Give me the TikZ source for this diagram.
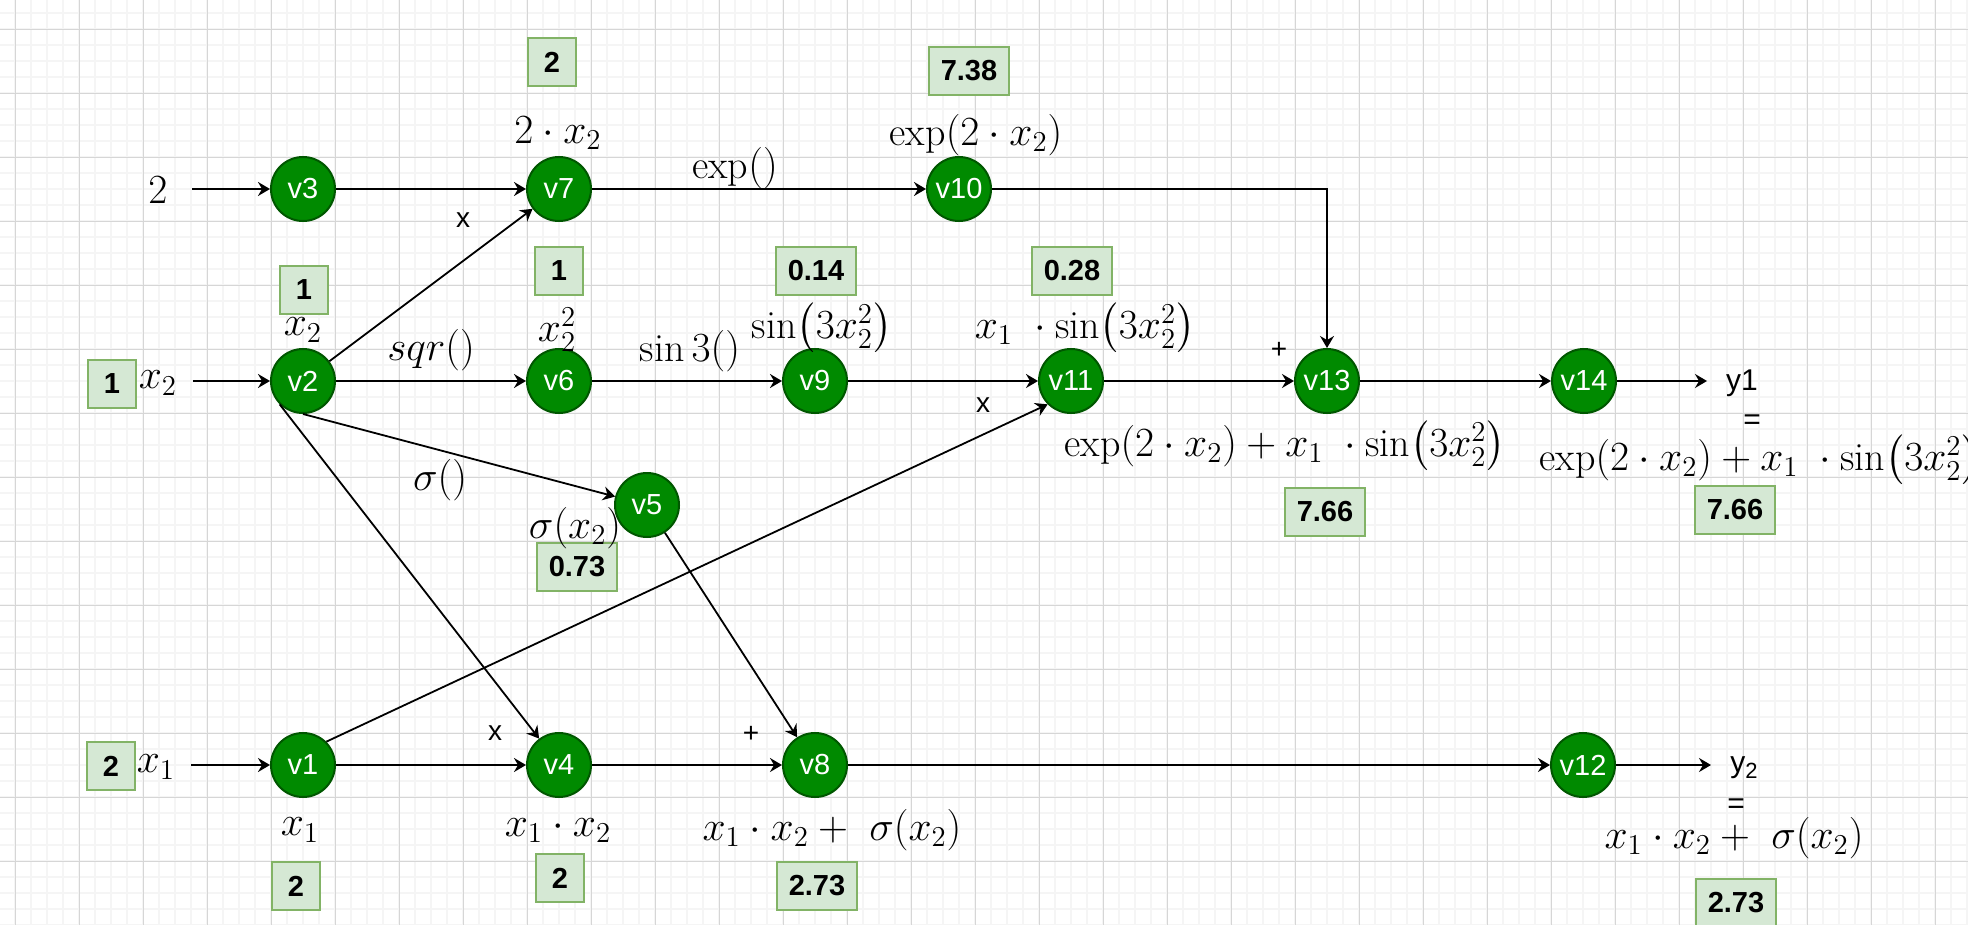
\documentclass[tikz,border=0pt]{standalone}
\usepackage{amsmath}
\usepackage{fontspec}
\setsansfont{Liberation Sans}
\usepackage{tikz}
\usetikzlibrary{
  arrows.meta,
  calc
}
\usepackage{xcolor}
\definecolor{vfill}{RGB}{0, 138, 0}
\definecolor{vdraw}{RGB}{0, 87, 0}
\definecolor{boxfill}{RGB}{213, 232, 212}
\definecolor{boxdraw}{RGB}{130, 179, 102}
\definecolor{gridmaj}{RGB}{214, 214, 214}
\definecolor{gridmin}{RGB}{245, 245, 245}
\tikzset{
  % Graf tugunlari
  vnode/.style    = {circle, fill=vfill, draw=vdraw, line width=1pt,
                     minimum size=32pt, inner sep=0pt, text=white,
                     font=\sffamily\fontsize{14.5}{17}\selectfont},
  % Qiymat qutilari
  valbox/.style   = {rectangle, fill=boxfill, draw=boxdraw, line width=0.6pt,
                     minimum width=24pt, minimum height=24pt, inner sep=0pt,
                     font=\sffamily\bfseries\fontsize{14.5}{17}\selectfont},
  widebox/.style  = {valbox, minimum width=40pt},
  % Etiketlar
  mathlab/.style  = {inner sep=1pt, font=\fontsize{20}{24}\selectfont},
  oplab/.style    = {inner sep=1pt, font=\sffamily\fontsize{14}{16}\selectfont},
  outlab/.style   = {inner sep=1pt, font=\sffamily\fontsize{15}{18}\selectfont},
  % O'q chiziqlari
  flow/.style     = {-{Stealth[length=6pt, width=7pt, inset=2pt]}, line width=0.9pt},
  % Fon to'ri
  gridminor/.style = {draw=gridmin, line width=1pt},
  gridmajor/.style = {draw=gridmaj, line width=0.5pt},
}
\newcommand{\prn}[1]{\!\left(#1\right)}
\newcommand{\lowsub}[1]{\raisebox{-0.35ex}{\fontsize{11}{12}\selectfont #1}}
\begin{document}
\begin{tikzpicture}[x=0.5pt, y=-0.5pt]
  \useasboundingbox (0,0) rectangle (1968,925);
  % fon
  \fill[white] (0,0) rectangle (1968,925);
  \foreach \i in {0,...,122} \draw[gridminor] ({15.3+\i*16},0) -- ({15.3+\i*16},925);
  \foreach \j in {0,...,57} \draw[gridminor] (0,{13.3+\j*16}) -- (1968,{13.3+\j*16});
  \foreach \i in {0,...,30} \draw[gridmajor] ({15.3+\i*64},0) -- ({15.3+\i*64},925);
  \foreach \j in {0,...,13} \draw[gridmajor] (0,{29.3+\j*64}) -- (1968,{29.3+\j*64});

  % tugunlar
  \node[vnode] (v3)  at (303,189)  {v3};
  \node[vnode] (v7)  at (559,189)  {v7};
  \node[vnode] (v10) at (959,189)  {v10};
  \node[vnode] (v2)  at (303,381)  {v2};
  \node[vnode] (v6)  at (559,381)  {v6};
  \node[vnode] (v9)  at (815,381)  {v9};
  \node[vnode] (v11) at (1071,381) {v11};
  \node[vnode] (v13) at (1327,381) {v13};
  \node[vnode] (v14) at (1584,381) {v14};
  \node[vnode] (v5)  at (647,505)  {v5};
  \node[vnode] (v1)  at (303,765)  {v1};
  \node[vnode] (v4)  at (559,765)  {v4};
  \node[vnode] (v8)  at (815,765)  {v8};
  \node[vnode] (v12) at (1583,765) {v12};

  % kirish va chiqish
  \node[mathlab] (in2)  at (158,190) {$2$};
  \node[mathlab] (inx2) at (158,383) {$x_2$};
  \node[mathlab] (inx1) at (156,767) {$x_1$};
  \coordinate (s3) at (192,189);
  \coordinate (s2) at (193,381);
  \coordinate (s1) at (191,765);
  \coordinate (y1end) at (1707,381);
  \coordinate (y2end) at (1711,765);

  % qiymatlar
  \node[valbox]  (b7a) at (552,62)   {2};
  \node[widebox] (b10) at (969,71)   {7.38};
  \node[valbox]  (b7)  at (559,271)  {1};
  \node[valbox]  (b2)  at (304,290)  {1};
  \node[valbox]  (bx2) at (112,384)  {1};
  \node[widebox] (b9)  at (816,271)  {0.14};
  \node[widebox] (b11) at (1072,271) {0.28};
  \node[widebox] (b13) at (1325,512) {7.66};
  \node[widebox] (by1) at (1735,510) {7.66};
  \node[widebox] (b5)  at (577,567)  {0.73};
  \node[valbox]  (bx1) at (111,766)  {2};
  \node[valbox]  (b1)  at (296,886)  {2};
  \node[valbox]  (b4)  at (560,878)  {2};
  \node[widebox] (b8)  at (817,886)  {2.73};
  \node[widebox] (by2) at (1736,903) {2.73};

  % formulalar
  \node[mathlab] (l7)   at (558,133)  {$2\cdot x_2$};
  \node[mathlab] (lexp) at (735,168)  {$\exp()$};
  \node[mathlab] (l10)  at (976,135)  {$\exp\prn{2\cdot x_2}$};
  \node[mathlab] (l2)   at (303,330)  {$x_2$};
  \node[mathlab] (lsqr) at (431,350)  {$sqr()$};
  \node[mathlab] (l6)   at (557,330)  {$x_2^2$};
  \node[mathlab] (lsin) at (690,351)  {$\sin 3()$};
  \node[mathlab] (l9)   at (822,328)  {$\sin\prn{3x_2^2}$};
  \node[mathlab] (l11)  at (1085,328) {$x_1\ \cdot\sin\prn{3x_2^2}$};
  \node[mathlab] (l13)  at (1285,446) {$\exp\prn{2\cdot x_2}+x_1\ \cdot\sin\prn{3x_2^2}$};
  \node[mathlab] (lsig) at (440,480)  {$\sigma()$};
  \node[mathlab] (l5)   at (575,528)  {$\sigma\prn{x_2}$};
  \node[mathlab] (l1)   at (300,830)  {$x_1$};
  \node[mathlab] (l4)   at (558,830)  {$x_1\cdot x_2$};
  \node[mathlab] (l8)   at (832,830)  {$x_1\cdot x_2+\ \sigma\prn{x_2}$};
  \node[outlab]  (y1)   at (1742,383) {y1};
  \node[outlab]  (eq1)  at (1752,422) {=};
  \node[mathlab] (ly1)  at (1760,460) {$\exp\prn{2\cdot x_2}+x_1\ \cdot\sin\prn{3x_2^2}$};
  \node[outlab]  (y2)   at (1744,768) {y\lowsub{2}};
  \node[outlab]  (eq2)  at (1736,806) {=};
  \node[mathlab] (ly2)  at (1734,838) {$x_1\cdot x_2+\ \sigma\prn{x_2}$};

  % amallar
  \node[oplab] (o7)  at (463,220) {x};
  \node[oplab] (o11) at (983,405) {x};
  \node[oplab] (o4)  at (495,733) {x};
  \node[oplab] (o8)  at (751,734) {+};
  \node[oplab] (o13) at (1279,350) {+};

  % bog'lanishlar
  \draw[flow] (s3) -- (v3);
  \draw[flow] (v3) -- (v7);
  \draw[flow] (v7) -- (v10);
  \draw[flow] (v10) -| (v13);
  \draw[flow] (s2) -- (v2);
  \draw[flow] (v2) -- (v7);
  \draw[flow] (v2) -- (v6);
  \draw[flow] (v6) -- (v9);
  \draw[flow] (v9) -- (v11);
  \draw[flow] (v11) -- (v13);
  \draw[flow] (v13) -- (v14);
  \draw[flow] (v14) -- (y1end);
  \draw[flow] (v2.south) -- (v5);
  \draw[flow] (v2.225) -- (v4.127);
  \draw[flow] (v5) -- (v8);
  \draw[flow] (s1) -- (v1);
  \draw[flow] (v1) -- (v4);
  \draw[flow] (v4) -- (v8);
  \draw[flow] (v8) -- (v12);
  \draw[flow] (v1.45) -- (v11.225);
  \draw[flow] (v12) -- (y2end);
\end{tikzpicture}
\end{document}
